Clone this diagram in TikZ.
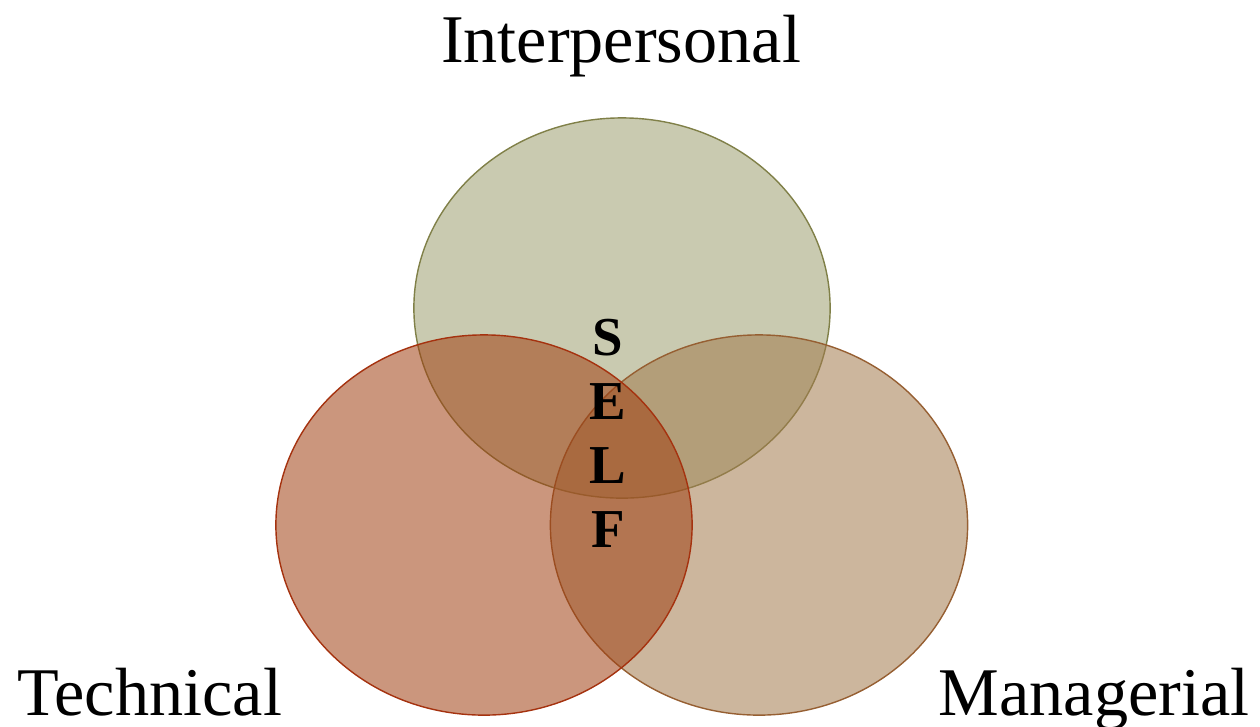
\documentclass[tikz,border=0pt]{standalone}
\usepackage{fontspec}
\setmainfont{Liberation Serif}
\usetikzlibrary{positioning}

\definecolor{topfill}{RGB}{157,159,111}
\definecolor{topline}{RGB}{128,128,72}
\definecolor{rightfill}{RGB}{162,122,77}
\definecolor{rightline}{RGB}{150,95,50}
\definecolor{leftfill}{RGB}{160,64,19}
\definecolor{leftline}{RGB}{165,50,15}

\tikzset{
  circ/.style={fill opacity=0.55, line width=0.4pt},
  lbl/.style={font=\fontsize{19.4}{23}\selectfont, inner sep=0pt},
}

\begin{document}
\begin{tikzpicture}[x=0.01cm, y=-0.01cm]
    \useasboundingbox (0,0) rectangle (1260,726);
    % 三个圆（上、右、左的顺序叠放）
    \draw[circ, draw=topline, fill=topfill] (622,308) ellipse [x radius=2.08cm, y radius=1.90cm];
    \draw[circ, draw=rightline, fill=rightfill] (759,525) ellipse [x radius=2.085cm, y radius=1.90cm];
    \draw[circ, draw=leftline, fill=leftfill] (484,525) ellipse [x radius=2.08cm, y radius=1.90cm];
    % 中间的字（base 取最后一行）
    \node[anchor=base, align=center, inner sep=0pt,
      font=\fontsize{15.6}{18.2}\selectfont\bfseries] (self) at (608,547) {S\\E\\L\\F};
    % 标签
    \node[lbl, anchor=base] (inter) at (621,62) {Interpersonal};
    \node[lbl, anchor=base west] (tech) at (17,715) {Technical};
    \node[lbl, anchor=base east] (manag) at (1250,715) {Managerial};
  \end{tikzpicture}
\end{document}
